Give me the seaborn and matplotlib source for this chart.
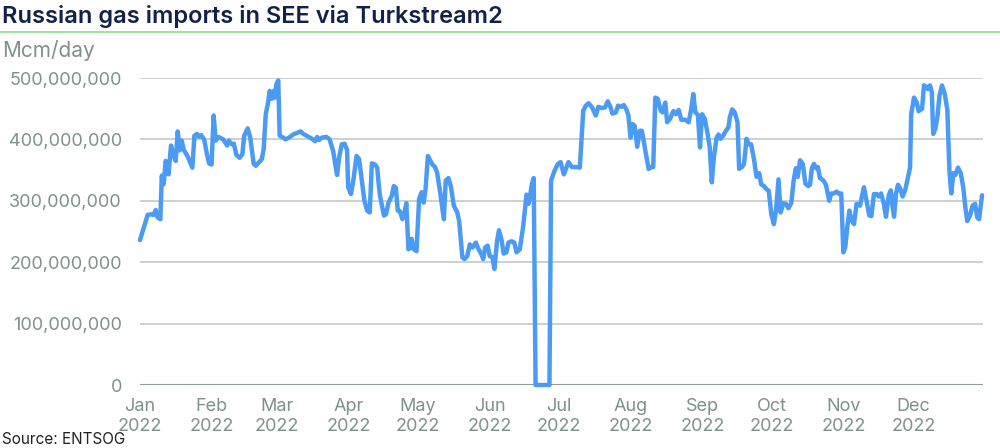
import pandas as pd
import matplotlib
matplotlib.use("Agg")
import matplotlib.pyplot as plt
import matplotlib.transforms as mtransforms
from matplotlib.ticker import FuncFormatter
import seaborn as sns

# day offset from 1 Jan 2022 and flow (million units, axis shows full numbers)
day_offset = [
    0.0, 3.3, 4.8, 5.8, 6.8, 7.6, 8.8, 9.4, 10.2, 11.1, 12.3, 13.4, 14.3, 15.4,
    16.3, 17.1, 18.0, 18.9, 20.6, 22.6, 23.5, 24.6, 25.5, 26.4, 27.7, 28.9,
    29.8, 30.9, 31.8, 32.7, 33.9, 35.9, 37.6, 38.4, 39.6, 40.5, 41.6, 43.0,
    44.2, 45.0, 46.5, 47.6, 49.1, 50.0, 51.4, 52.6, 53.4, 54.3, 55.2, 56.0,
    56.9, 57.7, 58.3, 58.9, 59.7, 60.3, 61.8, 62.9, 64.4, 66.1, 68.1, 69.3,
    70.5, 72.8, 74.7, 75.6, 76.5, 77.3, 78.5, 80.5, 81.9, 83.4, 84.2, 85.1,
    86.0, 87.1, 88.3, 89.4, 89.9, 91.1, 92.3, 93.5, 94.6, 95.8, 96.9, 98.1,
    99.2, 100.1, 101.5, 102.4, 103.5, 105.3, 106.2, 107.3, 108.7, 109.6,
    110.5, 111.3, 112.2, 113.3, 114.1, 115.0, 115.9, 116.8, 117.3, 118.2,
    119.4, 120.5, 121.6, 122.5, 123.3, 124.3, 125.4, 126.3, 127.4, 128.3,
    129.4, 131.2, 132.0, 133.2, 134.3, 135.5, 137.0, 137.8, 139.2, 140.1,
    141.3, 142.4, 143.6, 145.0, 146.2, 147.3, 148.2, 149.0, 150.1, 151.0,
    152.2, 153.0, 154.2, 155.0, 156.2, 157.0, 158.2, 159.1, 160.5, 161.6,
    162.6, 164.0, 165.4, 166.9, 167.7, 168.6, 169.2, 170.0, 170.8, 176.8,
    177.5, 179.0, 180.4, 181.6, 183.0, 185.0, 186.5, 188.2, 189.9, 191.4,
    192.5, 193.7, 195.2, 196.8, 197.9, 199.4, 200.8, 202.0, 203.2, 204.0,
    205.5, 206.4, 207.8, 208.9, 210.1, 210.9, 211.8, 212.7, 213.6, 214.7,
    215.8, 216.7, 217.6, 218.7, 219.6, 220.7, 221.6, 222.5, 223.6, 224.8,
    225.6, 226.8, 227.6, 228.8, 230.3, 231.4, 232.6, 233.7, 235.4, 236.9,
    238.0, 238.9, 239.8, 240.9, 241.8, 242.7, 243.9, 245.0, 246.0, 246.9,
    247.8, 249.0, 249.8, 250.7, 251.8, 253.0, 254.1, 254.7, 255.7, 256.8,
    258.0, 258.7, 259.9, 260.8, 261.9, 262.8, 263.9, 265.1, 266.2, 267.4,
    268.2, 269.4, 270.5, 271.5, 272.6, 273.7, 274.6, 275.7, 276.6, 277.8,
    278.9, 280.0, 281.2, 282.3, 283.2, 284.0, 285.0, 286.2, 287.3, 288.5,
    289.3, 290.1, 291.0, 291.9, 292.7, 293.6, 295.1, 296.2, 297.6, 298.5,
    299.6, 300.8, 301.9, 302.8, 303.7, 304.5, 305.4, 306.3, 307.1, 308.3,
    309.4, 310.9, 311.7, 312.6, 313.7, 314.9, 315.8, 316.9, 318.1, 319.0,
    320.0, 321.2, 322.1, 323.3, 324.2, 324.8, 325.6, 326.4, 327.3, 328.1,
    329.3, 330.5, 331.6, 332.5, 333.0, 334.2, 335.4, 336.2, 337.7, 338.5,
    339.4, 340.2, 341.1, 341.9, 342.5, 343.4, 344.3, 345.2, 346.3, 347.5,
    348.6, 349.5, 350.3, 351.2, 352.1, 353.2, 354.4, 355.5, 356.4, 357.2,
    358.4, 359.5, 360.6, 361.5, 362.3, 363.6,
]
flow_m = [
    236, 277, 278, 277, 285, 273, 270, 341, 327, 365, 343, 390, 376, 365,
    413, 382, 398, 383, 372, 354, 406, 409, 404, 407, 400, 376,
    361, 359, 439, 398, 404, 400, 390, 398, 392, 393, 375, 370,
    376, 406, 418, 403, 360, 357, 363, 368, 384, 441, 458, 479,
    466, 479, 468, 490, 496, 406, 403, 400, 403, 408, 411, 413,
    409, 404, 400, 397, 404, 399, 403, 404, 400, 381, 362, 342,
    371, 392, 393, 383, 322, 311, 338, 373, 368, 333, 300, 284,
    281, 361, 359, 354, 311, 276, 278, 297, 308, 324,
    321, 284, 283, 270, 279, 296, 221, 224, 238, 221,
    218, 303, 314, 297, 319, 373, 365, 359, 355, 346,
    319, 270, 333, 337, 322, 292, 281, 267, 208, 205,
    210, 229, 224, 232, 221, 214, 205, 224, 227, 210,
    208, 189, 235, 252, 235, 214, 216, 232, 234, 232,
    216, 221, 257, 310, 295, 312, 327, 337, 0, 0,
    333, 349, 360, 363, 343, 363, 355, 355, 354, 447,
    455, 459, 452, 439, 453, 451, 452, 462, 452, 442,
    444, 455, 453, 456, 448, 439, 403, 425, 422, 388,
    414, 414, 395, 371, 352, 355, 355, 468, 466, 447,
    444, 460, 428, 433, 446, 441, 448, 432, 432, 428,
    449, 474, 444, 440, 387, 441, 433, 411, 387, 330,
    371, 403, 408, 401, 406, 414, 420, 436, 449, 444,
    428, 352, 355, 360, 401, 392, 392, 368, 339, 345,
    327, 324, 319, 316, 278, 262, 284, 335, 281, 296,
    295, 288, 296, 335, 353, 339, 366, 360, 328, 324,
    326, 353, 360, 353, 355, 337, 333, 326, 300, 312,
    312, 315, 311, 312, 216, 224, 257, 284, 270, 262,
    295, 292, 307, 322, 300, 276, 275, 311, 311, 307,
    312, 295, 274, 309, 317, 295, 274, 311, 326, 321,
    307, 319, 338, 354, 441, 468, 460, 446, 450, 488,
    486, 482, 488, 477, 409, 417, 436, 471, 488, 474,
    448, 349, 312, 345, 342, 354, 345, 321, 289, 267,
    276, 292, 295, 273, 270, 309,
]
month_labels = ["Jan", "Feb", "Mar", "Apr", "May", "Jun",
                "Jul", "Aug", "Sep", "Oct", "Nov", "Dec"]
y_ticks = [0, 100_000_000, 200_000_000, 300_000_000, 400_000_000, 500_000_000]

start = pd.Timestamp("2022-01-01")
df = pd.DataFrame({
    "date": start + pd.to_timedelta(day_offset, unit="D"),
    "flow": [v * 1_000_000 for v in flow_m],
})

sns.set_style("white")
plt.rcParams["font.family"] = ["Inter", "DejaVu Sans"]

label_grey = "#7f9189"
navy = "#12204a"

fig = plt.figure(figsize=(10, 4.48), dpi=100)
ax = fig.add_axes([0.140, 1 - 385 / 448, 0.843, 307 / 448])

sns.lineplot(data=df, x="date", y="flow", ax=ax, color="#4b9bf5",
             linewidth=3.2, clip_on=False, zorder=3)

ax.set_xlim(start, pd.Timestamp("2022-12-31"))
ax.set_ylim(0, 500_000_000)

ax.set_yticks(y_ticks)
ax.yaxis.set_major_formatter(FuncFormatter(lambda v, p: f"{int(v):,}"))
month_starts = pd.date_range("2022-01-01", periods=12, freq="MS")
ax.set_xticks(month_starts)
ax.set_xticklabels([f"{m}\n2022" for m in month_labels])

# shift month labels a bit to the right of the month start
offset = mtransforms.ScaledTranslation(13 / 100, 0, fig.dpi_scale_trans)
for lbl in ax.get_xticklabels():
    lbl.set_transform(lbl.get_transform() + offset)

ax.tick_params(axis="y", length=0, pad=13, labelsize=13, labelcolor=label_grey)
ax.tick_params(axis="x", length=0, pad=9, labelsize=13, labelcolor=label_grey)
for lbl in ax.get_xticklabels():
    lbl.set_linespacing(1.25)

ax.grid(axis="y", color="#c9cdcc", linewidth=1.3)
ax.grid(axis="x", visible=False)
for s in ax.spines.values():
    s.set_visible(False)
ax.axhline(0, color="#8e9e96", linewidth=1.5, zorder=2)
ax.set_xlabel("")
ax.set_ylabel("")

fig.text(0.002, 0.948, "Russian gas imports in SEE via Turkstream2",
         fontsize=17, color=navy, fontweight="semibold", ha="left", va="baseline")
fig.add_artist(plt.Line2D([0, 1], [1 - 32 / 448, 1 - 32 / 448],
                          transform=fig.transFigure, color="#9fe3a0", linewidth=1.5))
fig.text(0.002, 1 - 57 / 448, "Mcm/day", fontsize=15, color=label_grey,
         ha="left", va="baseline")
fig.text(0.002, 1 - 444 / 448, "Source: ENTSOG", fontsize=11, color="#222222",
         ha="left", va="baseline")

plt.savefig("out.png", dpi=100)
plt.close()
